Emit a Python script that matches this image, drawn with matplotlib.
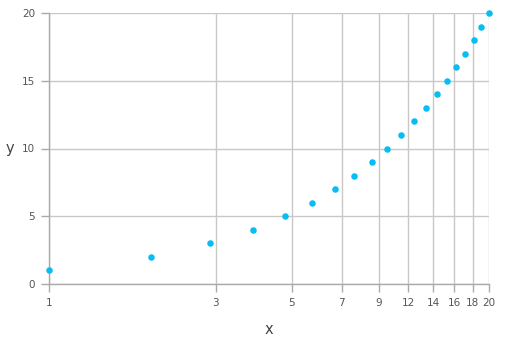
import matplotlib
matplotlib.use("Agg")
import matplotlib.pyplot as plt

x_values = list(range(1, 21))
y_values = list(range(1, 21))
x_tick_values = [1, 3.1111, 5.2222, 7.3333, 9.4444, 11.5556, 13.6667, 15.7778, 17.8889, 20]
x_tick_labels = ["1", "3", "5", "7", "9", "12", "14", "16", "18", "20"]
y_tick_values = [0, 5, 10, 15, 20]
y_tick_labels = ["0", "5", "10", "15", "20"]

fig = plt.figure(figsize=(5.08, 3.42), dpi=100)
ax = fig.add_axes([49/508, 58/342, 440/508, 271/342])
ax.set_xscale("log")
ax.set_xlim(1, 20)
ax.set_ylim(0, 20)

ax.scatter(x_values, y_values, s=22, color="#08bdf0", zorder=3, clip_on=False, linewidths=0)

ax.set_xticks(x_tick_values)
ax.set_xticklabels(x_tick_labels)
ax.xaxis.set_minor_locator(matplotlib.ticker.NullLocator())
ax.set_yticks(y_tick_values)
ax.set_yticklabels(y_tick_labels)

ax.grid(True, color="#c8c8c8", linewidth=1)
ax.set_axisbelow(True)
for s in ["top", "right"]:
    ax.spines[s].set_visible(False)
for s in ["left", "bottom"]:
    ax.spines[s].set_color("#aaaaaa")
    ax.spines[s].set_linewidth(1)
ax.tick_params(axis="both", colors="#aaaaaa", length=6, width=1, labelsize=7.5, labelcolor="#555555", pad=4)

ax.set_xlabel("x", fontsize=10.5, color="#444444", labelpad=10)
ax.set_ylabel("y", fontsize=10.5, color="#444444", rotation=0, va="center", ha="center")
ax.yaxis.set_label_coords(-0.088, 0.5)

fig.savefig("out.png", dpi=100)
